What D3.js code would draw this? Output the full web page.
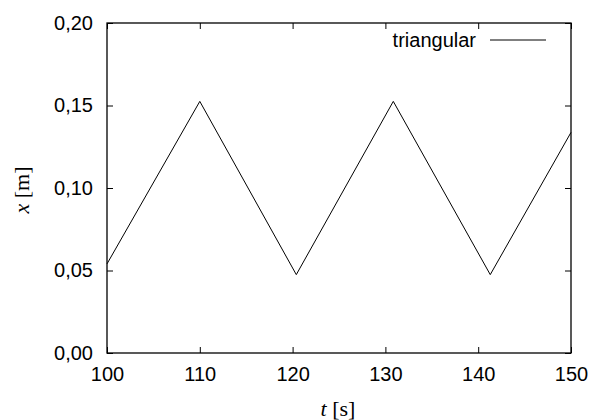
<!DOCTYPE html>
<html>
<head>
<meta charset="utf-8">
<script src="https://cdn.jsdelivr.net/npm/d3@7"></script>
<style>
  body { margin: 0; background: #fff; }
  svg { display: block; }
  .tick text { font-family: "Liberation Sans", Arial, sans-serif; font-size: 20px; fill: #000; }
  .lbl { font-family: "Liberation Serif", "Times New Roman", serif; font-size: 22px; fill: #000; }
</style>
</head>
<body>
<svg id="chart" width="593" height="420"></svg>
<script>
// triangular wave
const tVals = [100, 110, 120.4, 130.85, 141.3, 150];
const xVals = [0.054, 0.1525, 0.0475, 0.1525, 0.0475, 0.1337];
const xTicks = [100, 110, 120, 130, 140, 150];
const yTicks = [0, 0.05, 0.10, 0.15, 0.20];
const seriesName = "triangular";

const W = 593, H = 420;
const m = { left: 107, right: 22, top: 23, bottom: 67 };

const svg = d3.select("#chart");

const x = d3.scaleLinear().domain([100, 150]).range([m.left, W - m.right]);
const y = d3.scaleLinear().domain([0, 0.20]).range([H - m.bottom, m.top]);

const fmtY = d => d3.format(".2f")(d).replace(".", ",");

// bottom / left with labels, top / right mirrored
const tick = 6;
svg.append("g")
    .attr("transform", "translate(0," + (H - m.bottom) + ")")
    .call(d3.axisBottom(x).tickValues(xTicks).tickSize(-tick).tickPadding(14).tickFormat(d3.format("d")))
    .call(g => g.select(".domain").remove());
svg.append("g")
    .attr("transform", "translate(0," + m.top + ")")
    .call(d3.axisTop(x).tickValues(xTicks).tickSize(-tick).tickFormat(""))
    .call(g => g.select(".domain").remove());
svg.append("g")
    .attr("transform", "translate(" + m.left + ",0)")
    .call(d3.axisLeft(y).tickValues(yTicks).tickSize(-tick).tickPadding(14).tickFormat(fmtY))
    .call(g => g.select(".domain").remove());
svg.append("g")
    .attr("transform", "translate(" + (W - m.right) + ",0)")
    .call(d3.axisRight(y).tickValues(yTicks).tickSize(-tick).tickFormat(""))
    .call(g => g.select(".domain").remove());

svg.selectAll(".tick line").attr("stroke", "#000");

// frame
svg.append("rect")
    .attr("x", m.left).attr("y", m.top)
    .attr("width", W - m.left - m.right)
    .attr("height", H - m.top - m.bottom)
    .attr("fill", "none").attr("stroke", "#000").attr("stroke-width", 1.3);

// line
const pts = tVals.map((t, i) => [t, xVals[i]]);
svg.append("path")
    .datum(pts)
    .attr("fill", "none")
    .attr("stroke", "#000")
    .attr("stroke-width", 1)
    .attr("d", d3.line().x(d => x(d[0])).y(d => y(d[1])));

// legend
svg.append("text")
    .attr("x", 476).attr("y", 47)
    .attr("text-anchor", "end")
    .style("font-family", "Liberation Sans, Arial, sans-serif")
    .style("font-size", "20px")
    .text(seriesName);
svg.append("line")
    .attr("x1", 490).attr("x2", 546)
    .attr("y1", 40).attr("y2", 40)
    .attr("stroke", "#000").attr("stroke-width", 1);

// axis titles
const xt = svg.append("text").attr("class", "lbl")
    .attr("x", 338).attr("y", 416).attr("text-anchor", "middle");
xt.append("tspan").style("font-style", "italic").text("t");
xt.append("tspan").text(" [s]");

const yt = svg.append("text").attr("class", "lbl")
    .attr("transform", "translate(29,190) rotate(-90)")
    .attr("text-anchor", "middle");
yt.append("tspan").style("font-style", "italic").text("x");
yt.append("tspan").text(" [m]");
</script>
</body>
</html>
